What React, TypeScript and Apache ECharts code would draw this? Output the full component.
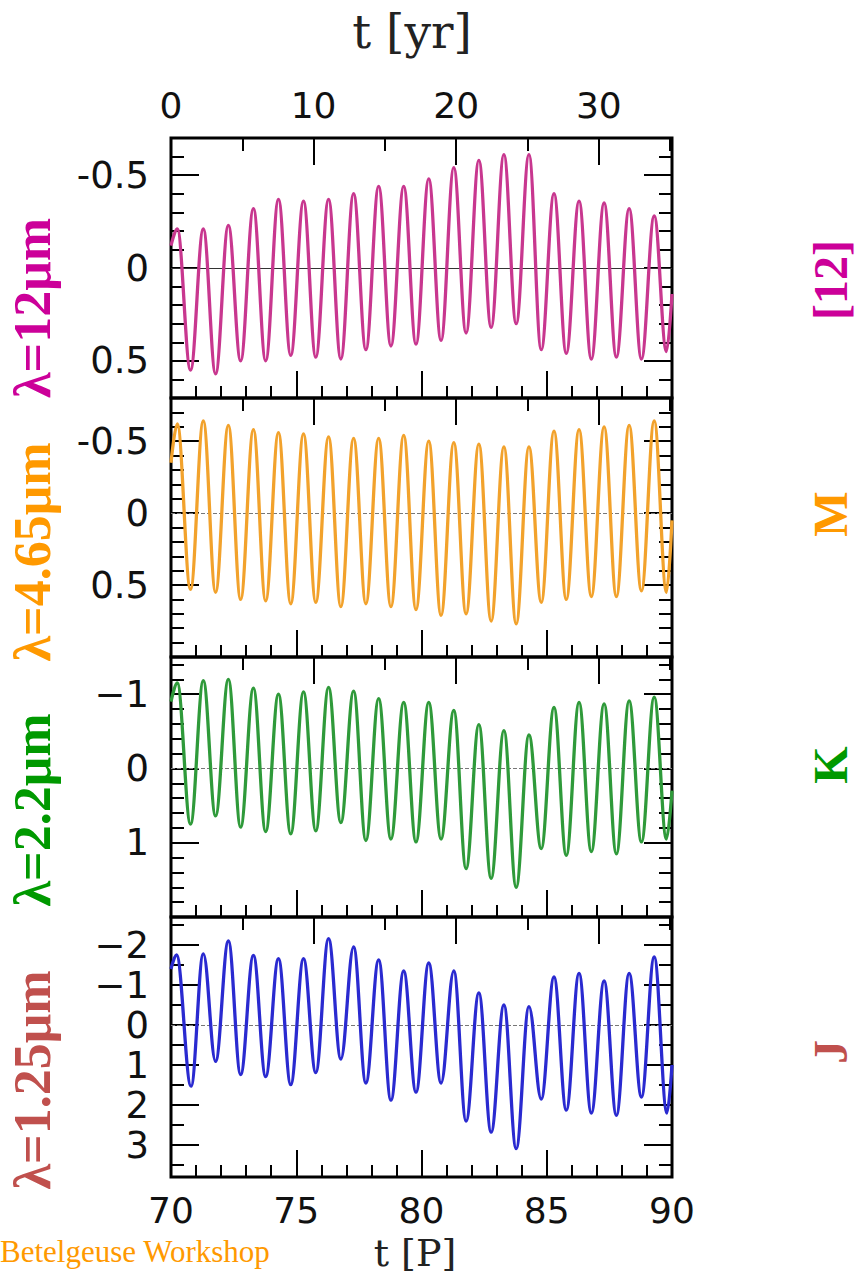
import React, { useEffect, useRef } from "react";
import * as echarts from "echarts";

// Light-curve extrema: [time in pulsation periods, magnitude offset]
const band12: [number, number][] = [
  [70.0, -0.12], [70.25, -0.21],
  [70.78, 0.55], [71.29, -0.21],
  [71.78, 0.57], [72.29, -0.23],
  [72.78, 0.5], [73.29, -0.32],
  [73.78, 0.5], [74.29, -0.37],
  [74.78, 0.47], [75.29, -0.36],
  [75.78, 0.48], [76.29, -0.37],
  [76.78, 0.49], [77.29, -0.4],
  [77.78, 0.44], [78.29, -0.44],
  [78.78, 0.42], [79.29, -0.44],
  [79.78, 0.41], [80.29, -0.48],
  [80.78, 0.39], [81.29, -0.54],
  [81.78, 0.35], [82.29, -0.58],
  [82.78, 0.32], [83.29, -0.61],
  [83.78, 0.3], [84.29, -0.61],
  [84.78, 0.44], [85.29, -0.4],
  [85.78, 0.46], [86.29, -0.36],
  [86.78, 0.49], [87.29, -0.35],
  [87.78, 0.48], [88.29, -0.32],
  [88.78, 0.49], [89.29, -0.28],
  [89.78, 0.45], [90.0, 0.14],
];

const band465: [number, number][] = [
  [70.0, -0.35], [70.25, -0.62],
  [70.78, 0.53], [71.29, -0.64],
  [71.78, 0.55], [72.29, -0.61],
  [72.78, 0.6], [73.29, -0.58],
  [73.78, 0.61], [74.29, -0.56],
  [74.78, 0.63], [75.29, -0.55],
  [75.78, 0.62], [76.29, -0.53],
  [76.78, 0.65], [77.29, -0.52],
  [77.78, 0.63], [78.29, -0.52],
  [78.78, 0.65], [79.29, -0.54],
  [79.78, 0.67], [80.29, -0.5],
  [80.78, 0.71], [81.29, -0.49],
  [81.78, 0.7], [82.29, -0.48],
  [82.78, 0.75], [83.29, -0.46],
  [83.78, 0.77], [84.29, -0.46],
  [84.78, 0.62], [85.29, -0.57],
  [85.78, 0.6], [86.29, -0.58],
  [86.78, 0.58], [87.29, -0.6],
  [87.78, 0.58], [88.29, -0.61],
  [88.78, 0.54], [89.29, -0.64],
  [89.78, 0.55], [90.0, 0.05],
];

const band22: [number, number][] = [
  [70.0, -0.9], [70.25, -1.15],
  [70.78, 0.75], [71.29, -1.18],
  [71.78, 0.64], [72.29, -1.2],
  [72.78, 0.79], [73.29, -1.08],
  [73.78, 0.85], [74.29, -1.0],
  [74.78, 0.88], [75.29, -1.03],
  [75.78, 0.84], [76.29, -1.09],
  [76.78, 0.73], [77.29, -1.04],
  [77.78, 0.97], [78.29, -0.94],
  [78.78, 0.95], [79.29, -0.89],
  [79.78, 0.99], [80.29, -0.89],
  [80.78, 0.95], [81.29, -0.78],
  [81.78, 1.35], [82.29, -0.59],
  [82.78, 1.48], [83.29, -0.51],
  [83.78, 1.6], [84.29, -0.45],
  [84.78, 1.08], [85.29, -0.82],
  [85.78, 1.17], [86.29, -0.89],
  [86.78, 1.12], [87.29, -0.87],
  [87.78, 1.15], [88.29, -0.91],
  [88.78, 0.99], [89.29, -0.96],
  [89.78, 0.95], [90.0, 0.3],
];

const band125: [number, number][] = [
  [70.0, -1.4], [70.22, -1.75],
  [70.8, 1.53], [71.29, -1.78],
  [71.78, 0.91], [72.29, -2.1],
  [72.78, 1.24], [73.29, -1.74],
  [73.78, 1.29], [74.29, -1.66],
  [74.78, 1.49], [75.29, -1.66],
  [75.78, 1.19], [76.29, -2.16],
  [76.78, 0.85], [77.29, -1.95],
  [77.78, 1.45], [78.29, -1.63],
  [78.78, 1.88], [79.29, -1.35],
  [79.78, 1.68], [80.29, -1.55],
  [80.78, 1.45], [81.29, -1.35],
  [81.78, 2.4], [82.29, -0.8],
  [82.78, 2.68], [83.29, -0.5],
  [83.78, 3.09], [84.29, -0.46],
  [84.78, 1.85], [85.29, -1.2],
  [85.78, 2.13], [86.29, -1.29],
  [86.78, 2.2], [87.29, -1.1],
  [87.78, 2.26], [88.29, -1.29],
  [88.78, 1.8], [89.29, -1.7],
  [89.8, 2.2], [90.0, 1.0],
];

// Axis extents
const periodRange = [70, 90];
const yearRange = [0, 35.13];

const panels = [
  { data: band12, color: "#c8378f", min: -0.7, max: 0.7, step: 0.5, minor: 5, zero: "solid", minusSign: "-" },
  { data: band465, color: "#f2a22c", min: -0.8, max: 1.0, step: 0.5, minor: 5, zero: "dashed", minusSign: "-" },
  { data: band22, color: "#2f9a3a", min: -1.5, max: 2.0, step: 1, minor: 5, zero: "dashed", minusSign: "\u2212" },
  { data: band125, color: "#2a2ad0", min: -2.7, max: 3.8, step: 1, minor: 2, zero: "dashed", minusSign: "\u2212" },
];

const bandLabels = [
  { text: "λ=12μm", side: "[12]", color: "#cc0099", y: 308, sideY: 280 },
  { text: "λ=4.65μm", side: "M", color: "#ff9900", y: 552, sideY: 514 },
  { text: "λ=2.2μm", side: "K", color: "#009900", y: 810, sideY: 765 },
  { text: "λ=1.25μm", side: "J", color: "#c0504d", y: 1080, sideY: 1052 },
];

const PANEL_EDGES = [138, 398, 657, 917, 1177];
const PLOT_LEFT = 171;
const PLOT_RIGHT = 672;
const TICK_FONT = "DejaVu Sans";

function tickStyle(majorLen: number, minorLen: number, split: number) {
  return {
    axisTick: { show: true, inside: true, length: majorLen, lineStyle: { color: "#000", width: 2 } },
    minorTick: { show: true, splitNumber: split, length: minorLen, lineStyle: { color: "#000", width: 2 } },
    axisLine: { show: false, onZero: false },
    splitLine: { show: false },
    minorSplitLine: { show: false },
  };
}

function buildOption() {
  const grid: any[] = [];
  const xAxis: any[] = [];
  const yAxis: any[] = [];
  const series: any[] = [];

  panels.forEach((p, i) => {
    grid.push({
      left: PLOT_LEFT,
      width: PLOT_RIGHT - PLOT_LEFT,
      top: PANEL_EDGES[i],
      height: PANEL_EDGES[i + 1] - PANEL_EDGES[i],
      show: true,
      borderColor: "#000",
      borderWidth: 3,
      backgroundColor: "transparent",
    });

    // bottom axis: time in periods
    xAxis.push({
      type: "value",
      gridIndex: i,
      position: "bottom",
      min: periodRange[0],
      max: periodRange[1],
      minInterval: 5,
      maxInterval: 5,
      ...tickStyle(27, 12, 5),
      axisLabel: {
        show: i === panels.length - 1,
        margin: 15,
        fontSize: 36,
        fontFamily: TICK_FONT,
        color: "#111",
      },
    });
    // top axis: time in years
    xAxis.push({
      type: "value",
      gridIndex: i,
      position: "top",
      min: yearRange[0],
      max: yearRange[1],
      minInterval: 10,
      maxInterval: 10,
      ...tickStyle(27, 13, 2),
      axisLabel: {
        show: i === 0,
        showMaxLabel: false,
        margin: 15,
        fontSize: 36,
        fontFamily: TICK_FONT,
        color: "#111",
      },
    });

    const fmt = (v: number) => (v < 0 ? p.minusSign + String(Math.abs(v)) : String(v));
    const yBase = {
      type: "value",
      gridIndex: i,
      inverse: true,
      min: p.min,
      max: p.max,
      minInterval: p.step,
      maxInterval: p.step,
      ...tickStyle(28, 13, p.minor),
    };
    yAxis.push({
      ...yBase,
      position: "left",
      axisLabel: {
        show: true,
        showMinLabel: false,
        showMaxLabel: false,
        formatter: fmt,
        margin: 22,
        fontSize: 37,
        fontFamily: TICK_FONT,
        color: "#111",
      },
    });
    yAxis.push({ ...yBase, position: "right", axisLabel: { show: false } });

    series.push({
      type: "line",
      xAxisIndex: i * 2,
      yAxisIndex: i * 2,
      data: p.data,
      showSymbol: false,
      smooth: 0.37,
      smoothMonotone: "x",
      lineStyle: { color: p.color, width: 3.3 },
      z: 3,
      markLine: {
        silent: true,
        symbol: ["none", "none"],
        label: { show: false },
        lineStyle: { color: i === 0 ? "#333" : "#777", width: 1, type: p.zero },
        data: [{ yAxis: 0 }],
        z: 2,
      },
    });
  });

  const graphics: any[] = [
    {
      type: "text",
      x: 412,
      y: 31,
      style: { text: "t [yr]", fontFamily: "DejaVu Serif", fontSize: 47, fill: "#222", align: "center", verticalAlign: "middle" },
    },
    {
      type: "text",
      x: 415,
      y: 1253,
      style: { text: "t [P]", fontFamily: "DejaVu Serif", fontSize: 38, fill: "#222", align: "center", verticalAlign: "middle" },
    },
    {
      type: "text",
      x: 0,
      y: 1251,
      style: { text: "Betelgeuse Workshop", fontFamily: "Liberation Serif", fontSize: 31, fill: "#ff9900", align: "left", verticalAlign: "middle" },
    },
  ];
  bandLabels.forEach((b) => {
    graphics.push({
      type: "text",
      x: 32,
      y: b.y,
      rotation: Math.PI / 2,
      style: { text: b.text, fontFamily: "Liberation Serif", fontWeight: "bold", fontSize: 52, fill: b.color, align: "center", verticalAlign: "middle" },
    });
    graphics.push({
      type: "text",
      x: 830,
      y: b.sideY,
      rotation: Math.PI / 2,
      style: { text: b.side, fontFamily: "Liberation Serif", fontWeight: "bold", fontSize: 48, fill: b.color, align: "center", verticalAlign: "middle" },
    });
  });

  return {
    animation: false,
    backgroundColor: "#ffffff",
    grid,
    xAxis,
    yAxis,
    series,
    graphic: { elements: graphics },
  };
}

export default function App() {
  const ref = useRef<HTMLDivElement>(null);
  useEffect(() => {
    if (!ref.current) return;
    const chart = echarts.init(ref.current, null, { renderer: "svg" });
    chart.setOption(buildOption() as any);
    return () => chart.dispose();
  }, []);
  return <div ref={ref} style={{ position: "absolute", left: 0, top: 0, width: 856, height: 1275 }} />;
}
